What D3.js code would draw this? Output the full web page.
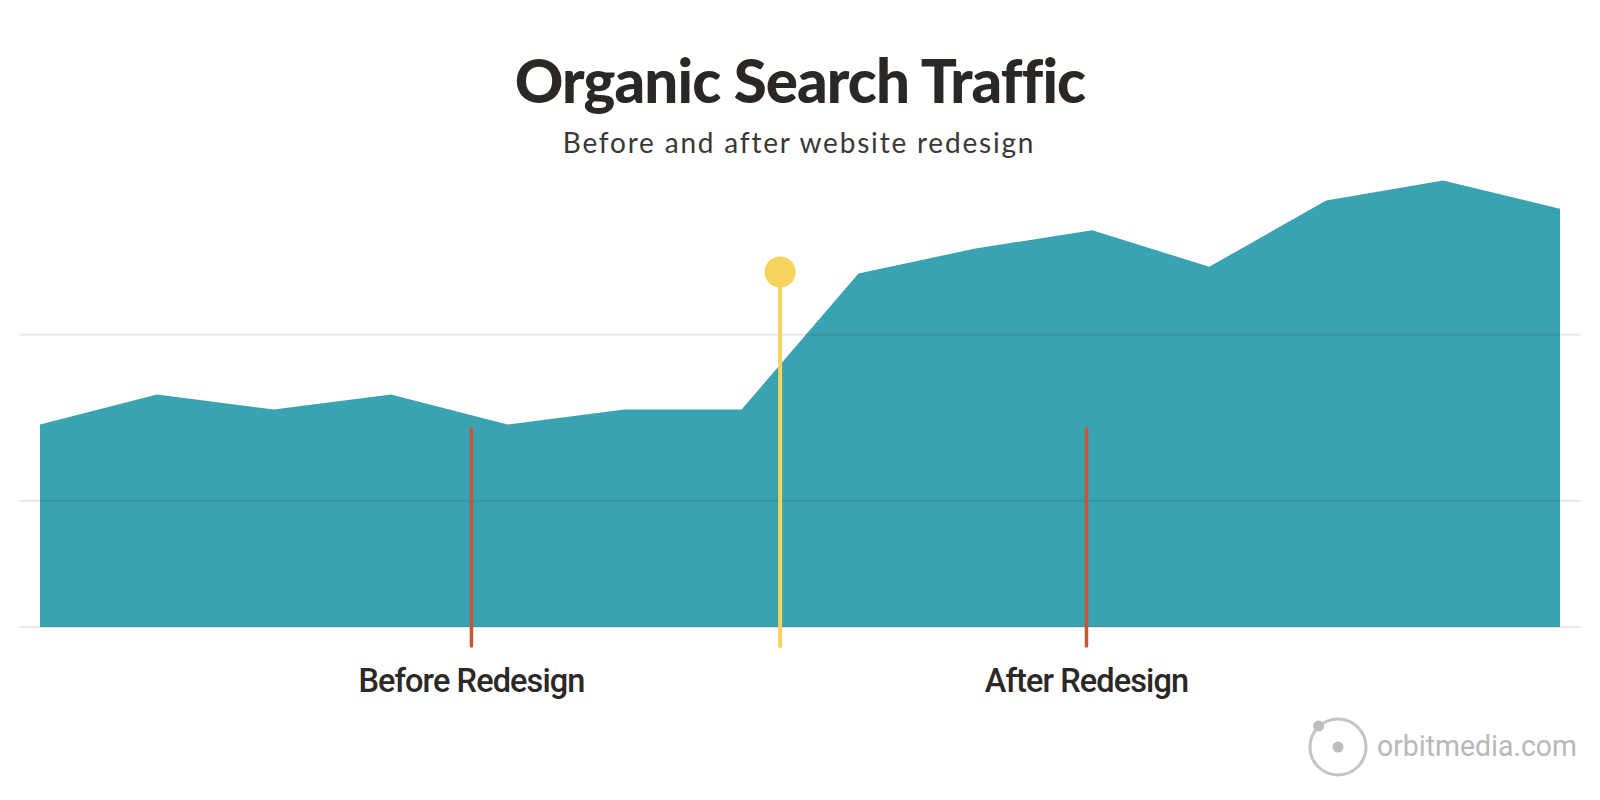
<!DOCTYPE html>
<html>
<head>
<meta charset="utf-8">
<script src="https://cdn.jsdelivr.net/npm/d3@7"></script>
<style>
  html, body { margin: 0; padding: 0; background: #ffffff; }
  svg { display: block; }
</style>
</head>
<body>
<svg id="chart" width="1600" height="800"></svg>
<script>
// ---- data ----
const periods = ["P1","P2","P3","P4","P5","P6","P7","P8","P9","P10","P11","P12","P13","P14"];
const traffic = [2460, 2640, 2550, 2640, 2460, 2550, 2550, 3370, 3520, 3630, 3410, 3810, 3930, 3760];
const gridValues = [1240, 2000, 3000];
const redesignAt = 6.33;          // position (in period index units) of the redesign launch
const phaseLabels = ["Before Redesign", "After Redesign"];
const phasePositions = [3.69, 8.95];
const titleText = "Organic Search Traffic";
const subtitleText = "Before and after website redesign";
const brandText = "orbitmedia.com";

// ---- setup ----
const svg = d3.select("#chart");
const x = d3.scaleLinear().domain([0, periods.length - 1]).range([40, 1560]);
const y = d3.scaleLinear().domain([1240, 4240]).range([627, 129]);

const teal = "#3aa3b2", yellow = "#f8d25e", red = "#c4563a";

// area
const area = d3.area()
  .x((d, i) => x(i))
  .y0(y(1240))
  .y1(d => y(d));
svg.append("path")
  .datum(traffic)
  .attr("d", area)
  .attr("fill", teal);

// gridlines drawn over area (semi-transparent)
svg.append("g").selectAll("line")
  .data(gridValues).join("line")
  .attr("x1", 20).attr("x2", 1580)
  .attr("y1", d => y(d)).attr("y2", d => y(d))
  .attr("stroke", "rgba(0,0,0,0.09)")
  .attr("stroke-width", 2);

// phase marker lines
svg.append("g").selectAll("line")
  .data(phasePositions).join("line")
  .attr("x1", d => x(d)).attr("x2", d => x(d))
  .attr("y1", 429).attr("y2", 646)
  .attr("stroke", red)
  .attr("stroke-width", 3.5)
  .attr("stroke-linecap", "round");

// redesign marker
svg.append("line")
  .attr("x1", x(redesignAt)).attr("x2", x(redesignAt))
  .attr("y1", 272).attr("y2", 646)
  .attr("stroke", yellow)
  .attr("stroke-width", 4)
  .attr("stroke-linecap", "round");
svg.append("circle")
  .attr("cx", x(redesignAt)).attr("cy", 272).attr("r", 15.5)
  .attr("fill", yellow);

// phase labels
svg.append("g").selectAll("text")
  .data(phaseLabels).join("text")
  .attr("x", (d, i) => x(phasePositions[i]))
  .attr("y", 692)
  .attr("text-anchor", "middle")
  .attr("font-family", "Roboto, sans-serif")
  .attr("font-weight", 500)
  .attr("font-size", 32.5)
  .attr("letter-spacing", -0.9)
  .attr("fill", "#2b2826")
  .text(d => d);

// title
svg.append("text")
  .attr("x", 800).attr("y", 102.5)
  .attr("text-anchor", "middle")
  .attr("font-family", "Lato, sans-serif")
  .attr("font-weight", 900)
  .attr("font-size", 60)
  .attr("letter-spacing", -0.9)
  .attr("fill", "#2b2724")
  .text(titleText);

svg.append("text")
  .attr("x", 799).attr("y", 153.3)
  .attr("text-anchor", "middle")
  .attr("font-family", "Lato, sans-serif")
  .attr("font-weight", 400)
  .attr("font-size", 28)
  .attr("letter-spacing", 1.8)
  .attr("fill", "#3a3735")
  .text(subtitleText);

// brand logo
const logo = svg.append("g").attr("fill", "none");
logo.append("circle").attr("cx", 1338).attr("cy", 747).attr("r", 28)
  .attr("stroke", "#c4c4c4").attr("stroke-width", 3);
logo.append("circle").attr("cx", 1338).attr("cy", 747).attr("r", 5.5).attr("fill", "#bdbdbd");
logo.append("circle").attr("cx", 1318.5).attr("cy", 726).attr("r", 5.5).attr("fill", "#bdbdbd");
svg.append("text")
  .attr("x", 1377).attr("y", 756)
  .attr("font-family", "Roboto, sans-serif")
  .attr("font-weight", 400)
  .attr("font-size", 30)
  .attr("textLength", 200)
  .attr("lengthAdjust", "spacingAndGlyphs")
  .attr("fill", "#b8b8b8")
  .text(brandText);
</script>
</body>
</html>
